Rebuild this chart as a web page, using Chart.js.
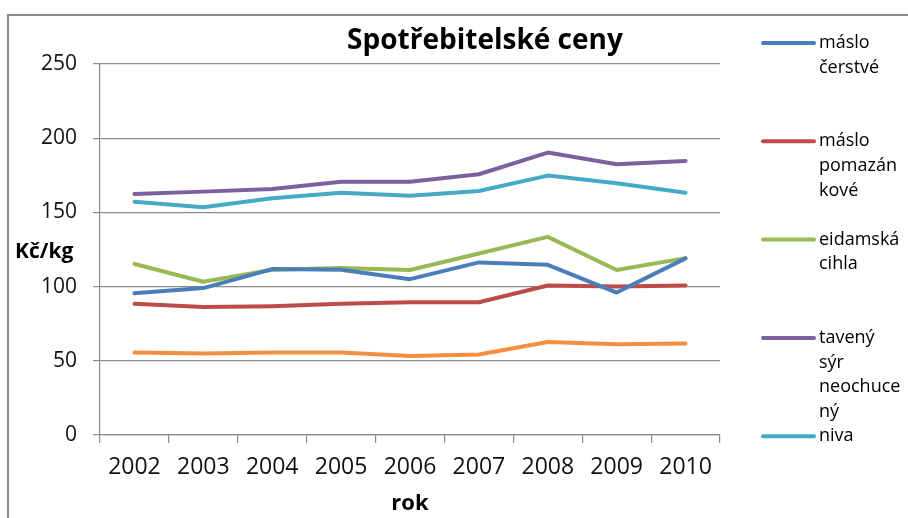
<!DOCTYPE html>
<html>
<head>
<meta charset="utf-8">
<script src="https://cdn.jsdelivr.net/npm/chart.js"></script>
<style>
  html, body { margin: 0; padding: 0; background: #fff; }
  #wrap { width: 908px; height: 518px; position: relative; }
</style>
</head>
<body>
<div id="wrap"><canvas id="cenyChart"></canvas></div>
<script>
// data (Kč/kg)
const years = ["2002", "2003", "2004", "2005", "2006", "2007", "2008", "2009", "2010"];
const masloCerstve = [95.5, 99, 111.8, 111.4, 105, 116.3, 114.7, 96, 119];
const masloPomazankove = [88.4, 86.2, 86.8, 88.4, 89.5, 89.5, 100.7, 100, 100.7];
const eidamskaCihla = [115.2, 103.3, 111.4, 112.5, 111.2, 122.3, 133.5, 111.2, 119.2];
const tavenySyr = [162.4, 164, 165.8, 170.7, 170.7, 175.7, 190.3, 182.4, 184.7];
const niva = [157.2, 153.4, 159.5, 163.3, 161.3, 164.4, 174.8, 169.6, 163.3];
const sestaRada = [55.6, 54.9, 55.6, 55.6, 53.3, 54.2, 62.7, 61.2, 61.6]; // no legend entry in the original
const yTicks = [0, 50, 100, 150, 200, 250];

const titleText = "Spotřebitelské ceny";
const yTitle = "Kč/kg";
const xTitle = "rok";
// legend labels, wrapped like the original
const legendLines = [
    ["máslo", "čerstvé"],
    ["máslo", "pomazán", "kové"],
    ["eidamská", "cihla"],
    ["tavený", "sýr", "neochuce", "ný"],
    ["niva"],
];

const FONT = "'Open Sans', 'Liberation Sans', sans-serif";
const GRID = "#8c8c8c";

function serie(label, data, color) {
    return {
        label: label,
        data: data,
        borderColor: color,
        backgroundColor: color,
        borderWidth: 4,
        pointRadius: 0,
        tension: 0,
        borderCapStyle: "round",
        borderJoinStyle: "round",
    };
}

const datasets = [
    serie("máslo čerstvé", masloCerstve, "#4A7EBB"),
    serie("máslo pomazánkové", masloPomazankove, "#BE4B48"),
    serie("eidamská cihla", eidamskaCihla, "#98B954"),
    serie("tavený sýr neochucený", tavenySyr, "#7D60A0"),
    serie("niva", niva, "#46AAC5"),
    serie("", sestaRada, "#F38F3E"),
];

// title, axis titles, frame and the wrapped legend
const decorPlugin = {
    id: "decor",
    afterDraw(chart) {
        const c = chart.ctx;
        c.save();
        c.strokeStyle = "#8a8a8a";
        c.lineWidth = 2;
        c.strokeRect(8, 15, 1000, 1000);

        c.fillStyle = "#000";
        c.textAlign = "center";
        c.textBaseline = "middle";
        c.font = "bold 28px " + FONT;
        c.fillText(titleText, 485, 41);

        c.font = "bold 21px " + FONT;
        c.textAlign = "left";
        c.fillText(yTitle, 15, 252);

        c.textAlign = "center";
        c.font = "bold 22px " + FONT;
        c.fillText(xTitle, chart.chartArea.left + chart.chartArea.width / 2, 504);

        c.font = "18px " + FONT;
        c.textAlign = "left";
        legendLines.forEach((lines, i) => {
            const ds = chart.data.datasets[i];
            const y0 = 43 + i * 98.3;
            c.strokeStyle = ds.borderColor;
            c.lineWidth = 4;
            c.lineCap = "round";
            c.beginPath();
            c.moveTo(763, y0);
            c.lineTo(814, y0);
            c.stroke();
            c.fillStyle = "#000";
            lines.forEach((t, j) => c.fillText(t, 819, y0 + j * 24.6));
        });
        c.restore();
    },
};

const ctx = document.getElementById("cenyChart").getContext("2d");
const cenyChart = new Chart(ctx, {
    type: "line",
    data: { labels: years, datasets: datasets },
    options: {
        responsive: true,
        maintainAspectRatio: false,
        animation: false,
        layout: { padding: { top: 64, right: 188, bottom: 0, left: 0 } },
        scales: {
            y: {
                min: 0,
                max: 250,
                afterBuildTicks: (scale) => {
                    scale.ticks = yTicks.map((v) => ({ value: v }));
                },
                afterFit: (scale) => { scale.width = 100; },
                ticks: {
                    color: "#111",
                    font: { family: FONT, size: 21 },
                    padding: 16,
                },
                grid: { color: GRID, lineWidth: 1.2, tickLength: 7 },
                border: { color: GRID, width: 1.2 },
            },
            x: {
                offset: true,
                afterFit: (scale) => { scale.height = 83; },
                ticks: {
                    color: "#111",
                    font: { family: FONT, size: 23 },
                    padding: 11,
                    maxRotation: 0,
                },
                grid: {
                    offset: true,
                    drawOnChartArea: false,
                    color: GRID,
                    lineWidth: 1.2,
                    tickLength: 8,
                },
                border: { color: GRID, width: 1.2 },
            },
        },
        plugins: {
            legend: { display: false },
            title: { display: false },
            tooltip: { enabled: true },
        },
    },
    plugins: [decorPlugin],
});
</script>
</body>
</html>
